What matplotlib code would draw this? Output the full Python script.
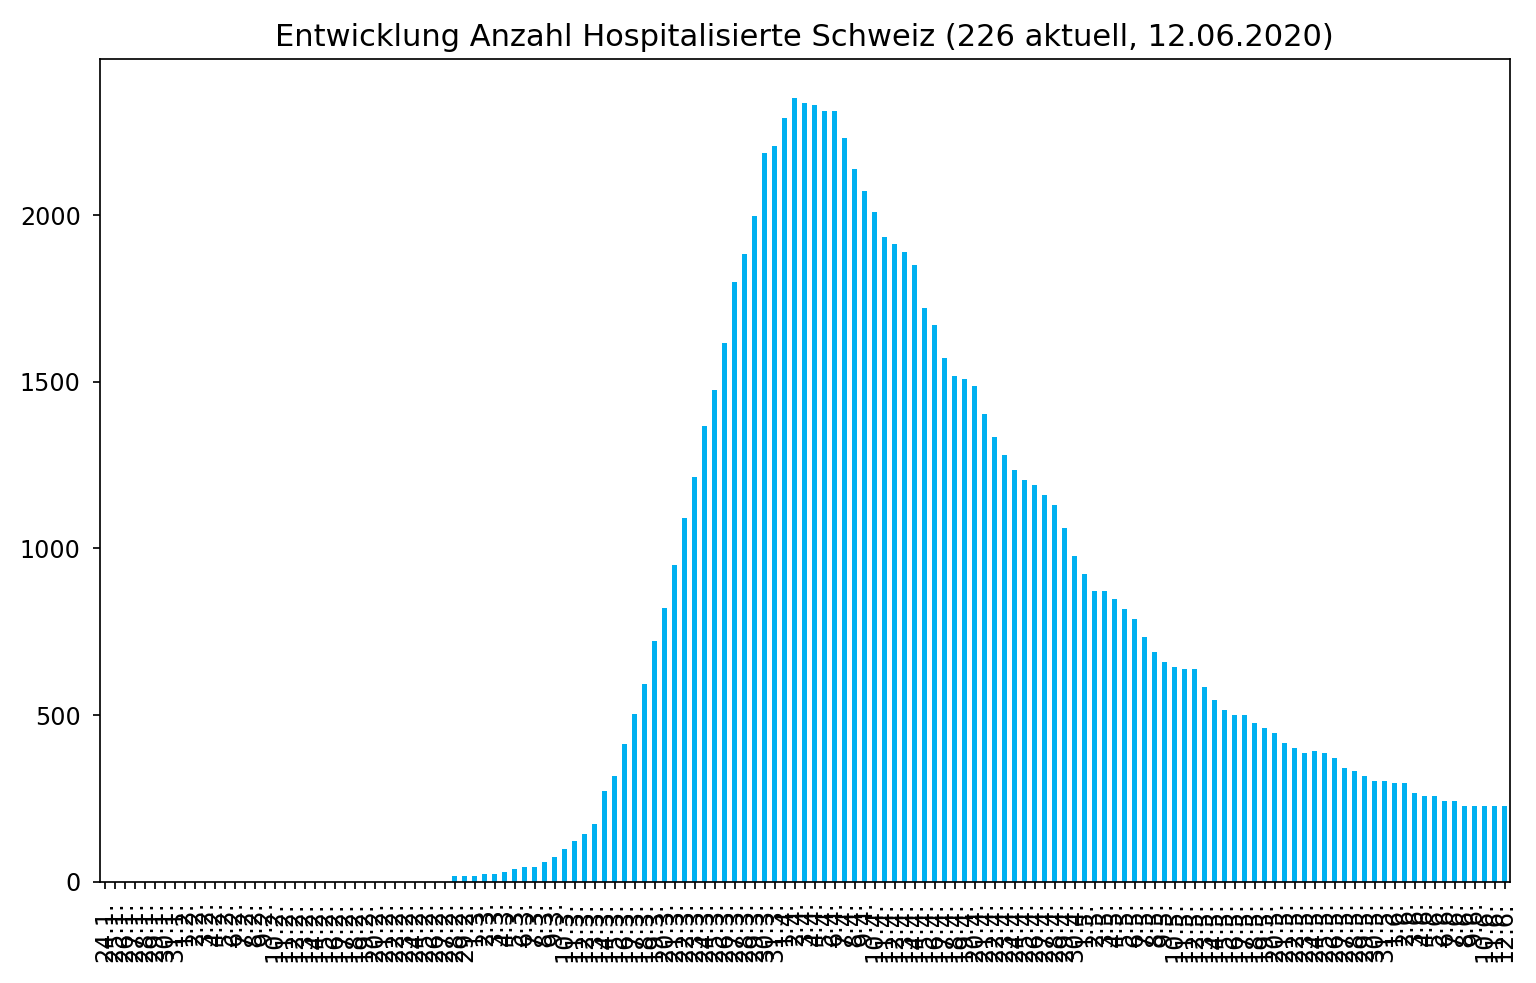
import pandas as pd
import matplotlib
matplotlib.use("Agg")
import matplotlib.pyplot as plt

# daily dates, 24.1.2020 - 12.6.2020
dates = pd.date_range("2020-01-24", "2020-06-12", freq="D")
date_labels = [f"{d.day}.{d.month}." for d in dates]

# hospitalised patients per day
hospitalised = (
    [0] * 35
    + [16, 16, 16, 23, 23, 30, 38, 45, 45, 60, 75, 98, 121, 143, 174, 273, 318]
    + [413, 502, 592, 723, 820, 950, 1092, 1215, 1366, 1474, 1616, 1799,
       1882, 1998, 2187, 2207, 2291, 2351]
    + [2336, 2329, 2313, 2313, 2230, 2139, 2071, 2010, 1934, 1912, 1889,
       1851, 1722, 1669, 1571, 1518]
    + [1508, 1486, 1402, 1333, 1280, 1235, 1205, 1190, 1159, 1129, 1061,
       977, 924, 871, 871, 848, 818, 788, 735]
    + [690, 660, 644, 637, 637, 584, 546, 516, 500, 500, 477, 462, 447,
       417, 402, 386, 393, 386, 371]
    + [341, 333, 318, 303, 303, 296, 296, 265, 257, 257, 243, 243, 228,
       228, 227, 227, 226]
)

current = hospitalised[-1]
title = f"Entwicklung Anzahl Hospitalisierte Schweiz ({current} aktuell, 12.06.2020)"

plt.rcParams["xtick.labelsize"] = 11.2
plt.rcParams["ytick.labelsize"] = 11.2
plt.rcParams["xtick.major.pad"] = 5.5
plt.rcParams["ytick.major.pad"] = 5.5
plt.rcParams["axes.titlesize"] = 14.3

fig = plt.figure(figsize=(10, 6.4), dpi=153.6)
ax = fig.add_axes([0.065, 0.103, 0.918, 0.837])

x = range(len(hospitalised))
ax.bar(x, hospitalised, width=0.5, color="#00b0f0")
ax.set_xlim(-0.5, len(hospitalised) - 0.5)
ax.set_xticks(list(x))
ax.set_xticklabels(date_labels, rotation=90)
ax.set_title(title)

fig.savefig("out.png", dpi=153.6)
